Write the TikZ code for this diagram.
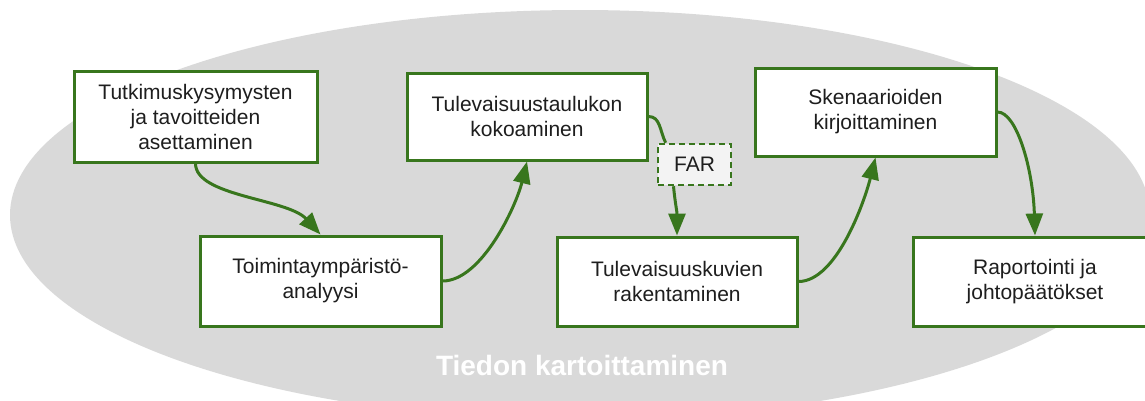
\documentclass[tikz,border=0pt]{standalone}
\usepackage{fontspec}
\setmainfont{Liberation Sans}
\usetikzlibrary{arrows.meta}
\definecolor{boxgreen}{HTML}{38761D}
\definecolor{mapgrey}{HTML}{D9D9D9}
\definecolor{farfill}{HTML}{F3F3F3}
\definecolor{ink}{HTML}{1E1E1E}

\begin{document}
\begin{tikzpicture}[x=1pt,y=-1pt,
  stepbox/.style={rectangle, draw=boxgreen, line width=3pt, fill=white,
    align=center, text=ink, inner sep=0pt, font=\fontsize{21}{25}\selectfont},
  notebox/.style={rectangle, draw=boxgreen, line width=2.5pt,
    dash pattern=on 6pt off 4pt, fill=farfill, text=ink, inner sep=0pt,
    minimum width=73pt, minimum height=41pt, font=\fontsize{21}{25}\selectfont},
  flow/.style={draw=boxgreen, line width=3pt, -{Triangle[length=22pt,width=17pt]}},
  link/.style={draw=boxgreen, line width=3pt},
  areatitle/.style={text=white, font=\bfseries\fontsize{28}{34}\selectfont}
]
\useasboundingbox (0,0) rectangle (1145,400);
\clip (0,0) rectangle (1145,400);

% knowledge-mapping area in the background
\fill[mapgrey] (580,215) ellipse [x radius=570pt, y radius=205pt];
\node[areatitle] (area) at (582,365) {Tiedon kartoittaminen};

% process steps
\node[stepbox, minimum width=243pt, minimum height=91pt] (n1) at (195.5,116.5)
  {Tutkimuskysymysten\\ja tavoitteiden\\asettaminen};
\node[stepbox, minimum width=241pt, minimum height=90pt] (n2) at (320.5,281)
  {Toimintaympäristö-\\analyysi};
\node[stepbox, minimum width=240pt, minimum height=87pt] (n3) at (527,116.5)
  {Tulevaisuustaulukon\\kokoaminen};
\node[notebox] (far) at (694.5,164.5) {FAR};
\node[stepbox, minimum width=240pt, minimum height=89pt] (n5) at (677,281.5)
  {Tulevaisuuskuvien\\rakentaminen};
\node[stepbox, minimum width=241pt, minimum height=88pt] (n6) at (875.5,112)
  {Skenaarioiden\\kirjoittaminen};
\node[stepbox, minimum width=244pt, minimum height=89pt] (n7) at (1035,281.5)
  {Raportointi ja\\johtopäätökset};

% connectors
\draw[flow] (n1.south) .. controls +(0,33) and +(-33,-36) .. (n2.north);
\draw[flow] (n2.east) .. controls +(39,0) and +(-11,45) .. (n3.south);
\draw[link] (n3.east) .. controls +(12,0) and +(-6,-12) .. (far.143);
\draw[flow] (far.226) .. controls +(2,20) and +(0,-25) .. (n5.north);
\draw[flow] (n5.east) .. controls +(38,0) and +(-11,44) .. (n6.south);
\draw[flow] (n6.east) .. controls +(19,0) and +(-2,-67) .. (n7.north);
\end{tikzpicture}
\end{document}
